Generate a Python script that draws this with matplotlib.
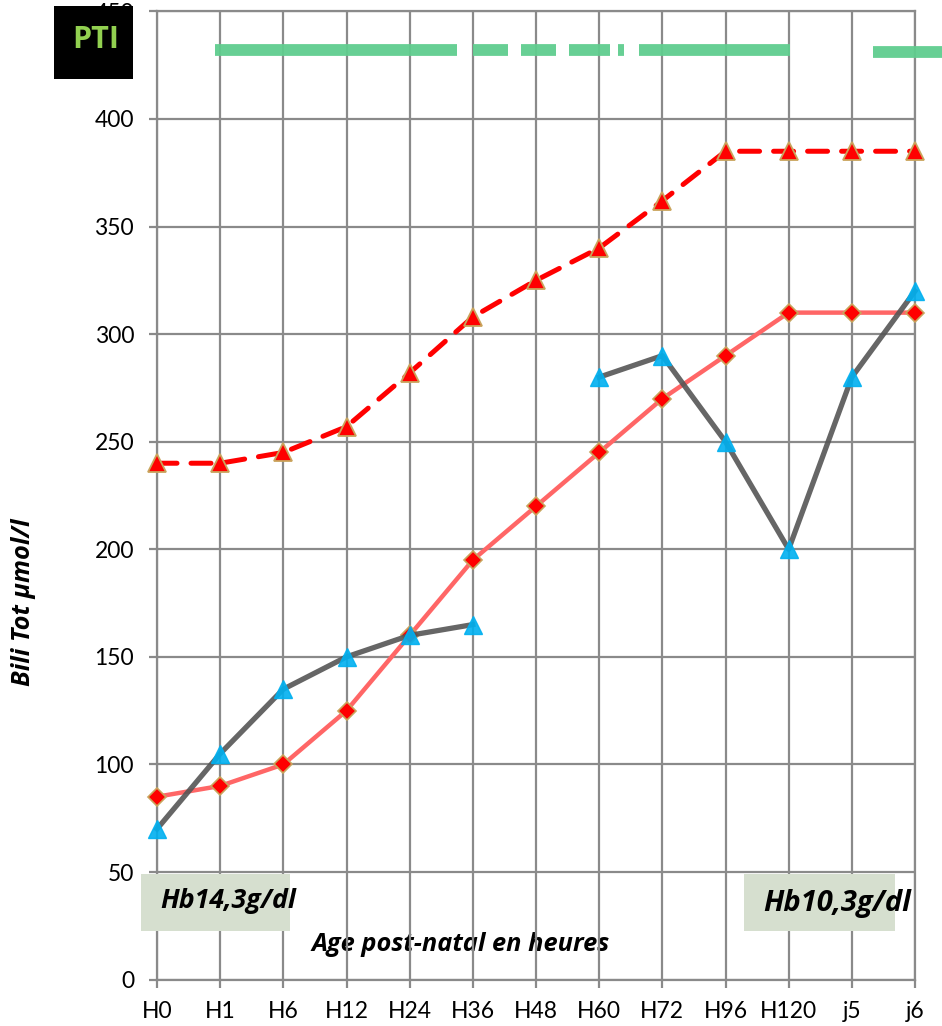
import matplotlib
matplotlib.use("Agg")
import matplotlib.pyplot as plt
import numpy as np
from matplotlib.patches import Rectangle

categories = ["H0", "H1", "H6", "H12", "H24", "H36", "H48", "H60", "H72", "H96", "H120", "j5", "j6"]
seuil_exsanguino = [240, 240, 245, 257, 282, 308, 325, 340, 362, 385, 385, 385, 385]
seuil_photo = [85, 90, 100, 125, 160, 195, 220, 245, 270, 290, 310, 310, 310]
bili_patient = [70, 105, 135, 150, 160, 165, np.nan, 280, 290, 250, 200, 280, 320]
yticks = [0, 50, 100, 150, 200, 250, 300, 350, 400, 450]
pti_segments = [(0.92, 4.75), (5.0, 5.55), (5.77, 6.32), (6.52, 7.17), (7.3, 7.4), (7.63, 10.02), (11.34, 12.5)]
pti_levels = [432, 432, 432, 432, 432, 432, 431]

plt.rcParams['font.family'] = ['Lato', 'DejaVu Sans']
bi_font = ['Open Sans', 'DejaVu Sans']

fig = plt.figure(figsize=(9.42, 10.26), dpi=100)
W, H = 942, 1026
x0, x1 = 157, 915
ytop, ybot = 11.4, 979.6
ax = fig.add_axes([x0 / W, 1 - ybot / H, (x1 - x0) / W, (ybot - ytop) / H])

x = np.arange(len(categories))
ax.set_xlim(0, len(categories) - 1)
ax.set_ylim(0, 450)

gridc = '#8a8a8a'
ax.set_xticks(x)
ax.set_xticklabels(categories, fontsize=16.5)
ax.set_yticks(yticks)
ax.set_yticklabels([str(v) for v in yticks], fontsize=16.5)
ax.set_axisbelow(False)
ax.grid(True, color=gridc, linewidth=1.6, zorder=2)
for s in ax.spines.values():
    s.set_color(gridc)
    s.set_linewidth(1.6)
ax.tick_params(axis='both', color=gridc, width=1.6, length=5.5, labelcolor='black')
ax.tick_params(axis='y', pad=11)
ax.tick_params(axis='x', pad=10)

ax.plot(x, seuil_exsanguino, color='#ff0000', lw=3.6, dashes=(4.0, 2.8), dash_capstyle='round',
        marker='^', markersize=13.5, markerfacecolor='#ff0000', markeredgecolor='#c9a45c',
        markeredgewidth=1.3, zorder=4, clip_on=False)
ax.plot(x, seuil_photo, color='#ff6666', lw=3.2,
        marker='D', markersize=9, markerfacecolor='#ff0000', markeredgecolor='#c9a45c',
        markeredgewidth=1.2, zorder=4, clip_on=False)
ax.plot(x, bili_patient, color='#555555', alpha=0.9, lw=3.8,
        marker='^', markersize=13.5, markerfacecolor='#00b0f0', markeredgecolor='#00b0f0',
        zorder=5, clip_on=False)

for (a, b), lvl in zip(pti_segments, pti_levels):
    ax.plot([a, b], [lvl, lvl], color='#5fcd8e', lw=8.5, solid_capstyle='butt',
            alpha=0.95, zorder=3, clip_on=False)

# Hb boxes
for (a, b) in [(-0.25, 2.1), (9.3, 11.68)]:
    ax.add_patch(Rectangle((a, 22.8), b - a, 26.5, facecolor='#d6dfcf', edgecolor='none', zorder=6, clip_on=False))
ax.text(0.05, 36.5, "Hb14,3g/dl", fontsize=19.3, fontweight='bold', style='italic', family=bi_font,
        va='center', ha='left', zorder=7)
ax.text(9.6, 35.5, "Hb10,3g/dl", fontsize=21, fontweight='bold', style='italic', family=bi_font,
        va='center', ha='left', zorder=7)

ax.text(4.8, 16.5, "Age post-natal en heures", fontsize=18.3, fontweight='bold', style='italic',
        family=bi_font, ha='center', va='center', zorder=1)

fig.text(24 / W, 1 - 602 / H, "Bili Tot µmol/l", fontsize=18.3, fontweight='bold', style='italic',
         family=bi_font, rotation=90, ha='center', va='center')

# PTI box
fig.patches.append(Rectangle((54 / W, 1 - 79 / H), 79 / W, 73 / H, transform=fig.transFigure,
                             facecolor='black', edgecolor='none', zorder=10))
fig.text(96 / W, 1 - 40 / H, "PTI", fontsize=22, fontweight='bold', color='#92d050',
         family=bi_font, ha='center', va='center', zorder=11)

fig.savefig("out.png", dpi=100)
